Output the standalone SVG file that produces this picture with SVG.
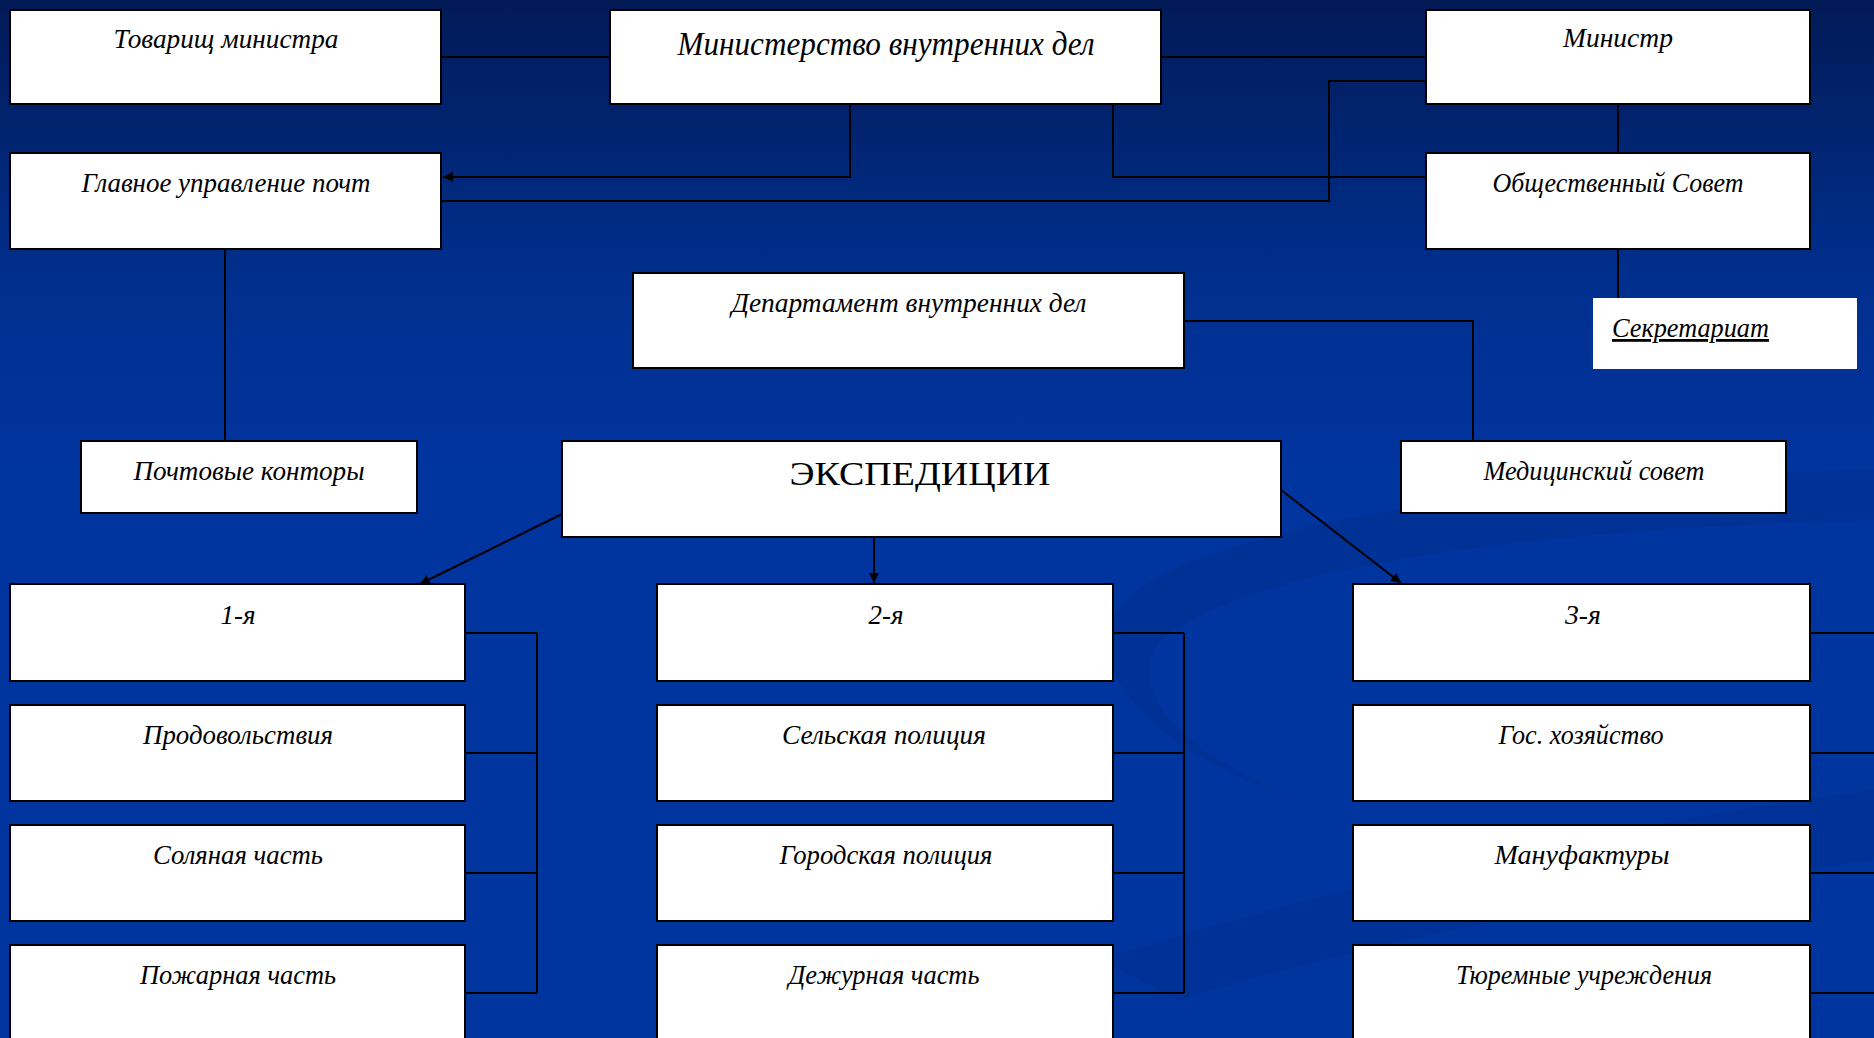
<svg xmlns="http://www.w3.org/2000/svg" width="1874" height="1038" viewBox="0 0 1874 1038">
<defs>
<linearGradient id="bg" x1="0" y1="0" x2="0" y2="1">
<stop offset="0" stop-color="#021a56"/>
<stop offset="0.27" stop-color="#002f8e"/>
<stop offset="0.45" stop-color="#00349e"/>
<stop offset="1" stop-color="#00349e"/>
</linearGradient>
<marker id="arr" viewBox="0 0 10 10" refX="10" refY="5" markerWidth="5" markerHeight="5" orient="auto" markerUnits="strokeWidth">
<path d="M0,0 L10,5 L0,10 z" fill="#000"/>
</marker>
<style>
.box{fill:#fff;stroke:#000;stroke-width:2}
.lbl{font-family:"Liberation Serif","Times New Roman",serif;font-style:italic;font-size:28px;fill:#000;text-anchor:middle}
.big{font-size:34px}
.up{font-style:normal}
.ln{fill:none;stroke:#000;stroke-width:2}
</style>
</defs>
<rect x="0" y="0" width="1874" height="1038" fill="url(#bg)"/>
<g id="background-swooshes" opacity="0.25">
<path d="M1110,620 C1150,540 1450,480 1874,470 L1874,520 C1500,530 1250,570 1160,640 C1120,700 1200,760 1300,800 C1200,770 1090,700 1110,620 z" fill="#002a80"/>
<path d="M1100,960 C1350,880 1650,820 1874,790 L1874,860 C1650,890 1400,930 1180,1000 z" fill="#002a80"/>
</g>
<g id="connectors">
<path class="ln" d="M441,57 H610"/>
<path class="ln" d="M1161,57 H1426"/>
<path class="ln" d="M850,104 V177 H443" marker-end="url(#arr)"/>
<path class="ln" d="M1113,104 V177 H1426"/>
<path class="ln" d="M1426,81 H1329 V201 H441"/>
<path class="ln" d="M1618,104 V153"/>
<path class="ln" d="M1618,249 V298"/>
<path class="ln" d="M1184,321 H1473 V441"/>
<path class="ln" d="M225,249 V441"/>
<path class="ln" d="M562,514 L420,584" marker-end="url(#arr)"/>
<path class="ln" d="M874,537 V583" marker-end="url(#arr)"/>
<path class="ln" d="M1281,490 L1401,583" marker-end="url(#arr)"/>
<path class="ln" d="M465,633 H537 M465,753 H537 M465,873 H537 M465,993 H537 M537,633 V993"/>
<path class="ln" d="M1113,633 H1184 M1113,753 H1184 M1113,873 H1184 M1113,993 H1184 M1184,633 V993"/>
<path class="ln" d="M1810,633 H1874 M1810,753 H1874 M1810,873 H1874 M1810,993 H1874"/>
</g>
<g id="n-tovarishch"><rect class="box" x="10" y="10" width="431" height="94"/><text class="lbl" x="226" y="48" textLength="225" lengthAdjust="spacingAndGlyphs">Товарищ министра</text></g>
<g id="n-mvd"><rect class="box" x="610" y="10" width="551" height="94"/><text class="lbl big" x="886" y="55" textLength="417" lengthAdjust="spacingAndGlyphs">Министерство внутренних дел</text></g>
<g id="n-ministr"><rect class="box" x="1426" y="10" width="384" height="94"/><text class="lbl" x="1618" y="47" textLength="110" lengthAdjust="spacingAndGlyphs">Министр</text></g>
<g id="n-glavnoe"><rect class="box" x="10" y="153" width="431" height="96"/><text class="lbl" x="226" y="192" textLength="289" lengthAdjust="spacingAndGlyphs">Главное управление почт</text></g>
<g id="n-obshch"><rect class="box" x="1426" y="153" width="384" height="96"/><text class="lbl" x="1618" y="192" textLength="251" lengthAdjust="spacingAndGlyphs">Общественный Совет</text></g>
<g id="n-departament"><rect class="box" x="633" y="273" width="551" height="95"/><text class="lbl" x="909" y="312" textLength="355" lengthAdjust="spacingAndGlyphs">Департамент внутренних дел</text></g>
<g id="n-sekretariat"><rect x="1593" y="298" width="264" height="71" fill="#fff"/><text class="lbl" x="1612" y="337" text-anchor="start" style="text-anchor:start" text-decoration="underline" textLength="157" lengthAdjust="spacingAndGlyphs">Секретариат</text></g>
<g id="n-pochtovye"><rect class="box" x="81" y="441" width="336" height="72"/><text class="lbl" x="249" y="480" textLength="231" lengthAdjust="spacingAndGlyphs">Почтовые конторы</text></g>
<g id="n-ekspedicii"><rect class="box" x="562" y="441" width="719" height="96"/><text class="lbl big up" x="920" y="485" textLength="261" lengthAdjust="spacingAndGlyphs">ЭКСПЕДИЦИИ</text></g>
<g id="n-medsovet"><rect class="box" x="1401" y="441" width="385" height="72"/><text class="lbl" x="1594" y="480" textLength="221" lengthAdjust="spacingAndGlyphs">Медицинский совет</text></g>
<g id="n-1"><rect class="box" x="10" y="584" width="455" height="97"/><text class="lbl" x="238" y="624" textLength="35" lengthAdjust="spacingAndGlyphs">1-я</text></g>
<g id="n-prodovolstvie"><rect class="box" x="10" y="705" width="455" height="96"/><text class="lbl" x="238" y="744" textLength="190" lengthAdjust="spacingAndGlyphs">Продовольствия</text></g>
<g id="n-solyanaya"><rect class="box" x="10" y="825" width="455" height="96"/><text class="lbl" x="238" y="864" textLength="170" lengthAdjust="spacingAndGlyphs">Соляная часть</text></g>
<g id="n-pozharnaya"><rect class="box" x="10" y="945" width="455" height="100"/><text class="lbl" x="238" y="984" textLength="196" lengthAdjust="spacingAndGlyphs">Пожарная часть</text></g>
<g id="n-2"><rect class="box" x="657" y="584" width="456" height="97"/><text class="lbl" x="886" y="624" textLength="35" lengthAdjust="spacingAndGlyphs">2-я</text></g>
<g id="n-selskaya"><rect class="box" x="657" y="705" width="456" height="96"/><text class="lbl" x="884" y="744" textLength="204" lengthAdjust="spacingAndGlyphs">Сельская полиция</text></g>
<g id="n-gorodskaya"><rect class="box" x="657" y="825" width="456" height="96"/><text class="lbl" x="886" y="864" textLength="213" lengthAdjust="spacingAndGlyphs">Городская полиция</text></g>
<g id="n-dezhurnaya"><rect class="box" x="657" y="945" width="456" height="100"/><text class="lbl" x="884" y="984" textLength="191" lengthAdjust="spacingAndGlyphs">Дежурная часть</text></g>
<g id="n-3"><rect class="box" x="1353" y="584" width="457" height="97"/><text class="lbl" x="1583" y="624" textLength="36" lengthAdjust="spacingAndGlyphs">3-я</text></g>
<g id="n-goskhoz"><rect class="box" x="1353" y="705" width="457" height="96"/><text class="lbl" x="1581" y="744" textLength="165" lengthAdjust="spacingAndGlyphs">Гос. хозяйство</text></g>
<g id="n-manufaktury"><rect class="box" x="1353" y="825" width="457" height="96"/><text class="lbl" x="1582" y="864" textLength="175" lengthAdjust="spacingAndGlyphs">Мануфактуры</text></g>
<g id="n-tyuremnye"><rect class="box" x="1353" y="945" width="457" height="100"/><text class="lbl" x="1584" y="984" textLength="256" lengthAdjust="spacingAndGlyphs">Тюремные учреждения</text></g>
</svg>
